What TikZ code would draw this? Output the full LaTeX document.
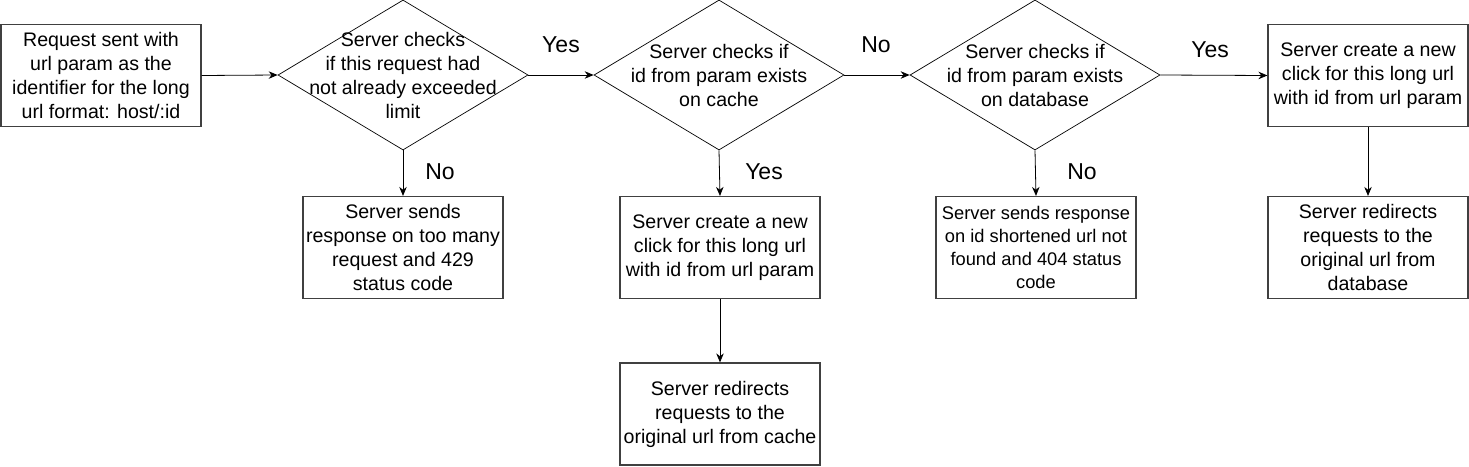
\documentclass[tikz,border=0pt]{standalone}
\usepackage{fontspec}
\setmainfont{Liberation Sans}
\usetikzlibrary{shapes.geometric,arrows.meta}
\tikzset{
  box/.style={draw=black!75, line width=1.2pt, rectangle, minimum width=200pt, minimum height=102pt, inner sep=0pt, align=center, font=\fontsize{19.6}{24}\selectfont},
  smallbox/.style={box, font=\fontsize{18.3}{23}\selectfont},
  dia/.style={draw=black, line width=0.7pt, shape=diamond, minimum width=250pt, minimum height=150pt, inner sep=0pt, aspect=1.667},
  diatext/.style={align=center, inner sep=0pt, font=\fontsize{19.6}{24}\selectfont},
  lab/.style={font=\fontsize{23}{26}\selectfont, inner sep=0pt},
  arr/.style={draw=black, line width=0.8pt, -{Stealth[length=9pt,width=7.5pt]}}
}
\begin{document}
\begin{tikzpicture}[x=1pt,y=-1pt]
\useasboundingbox (0,0) rectangle (1469,466);
\node[box] (b1) at (101,75.5) {Request sent with\\url param as the\\identifier for the long\\url format: host/:id};
\node[dia, label={[diatext]center:{Server checks\\if this request had\\not already exceeded\\limit}}] (d1) at (403,75) {};
\node[dia, label={[diatext]center:{Server checks if\\id from param exists\\on cache}}] (d2) at (719,75) {};
\node[dia, label={[diatext]center:{Server checks if\\id from param exists\\on database}}] (d3) at (1035,75) {};
\node[box] (b6) at (1368,75.5) {Server create a new\\click for this long url\\with id from url param};
\node[box] (b2) at (403,247.5) {Server sends\\response on too many\\request and 429\\status code};
\node[box] (b3) at (720,247.5) {Server create a new\\click for this long url\\with id from url param};
\node[box] (b4) at (720,414) {Server redirects\\requests to the\\original url from cache};
\node[smallbox] (b5) at (1036,247.5) {Server sends response\\on id shortened url not\\found and 404 status\\code};
\node[box] (b7) at (1368,247.5) {Server redirects\\requests to the\\original url from\\database};

\draw[arr] (b1.east) -- (d1.west);
\draw[arr] (d1.east) -- (d2.west);
\draw[arr] (d2.east) -- (d3.west);
\draw[arr] (d3.east) -- (b6.west);
\draw[arr] (d1.south) -- (b2.north);
\draw[arr] (d2.south) -- (b3.north);
\draw[arr] (d3.south) -- (b5.north);
\draw[arr] (b3.south) -- (b4.north);
\draw[arr] (b6.south) -- (b7.north);

\node[lab] (l1) at (561,45) {Yes};
\node[lab] (l2) at (876,45) {No};
\node[lab] (l3) at (1210,50) {Yes};
\node[lab] (l4) at (440,172) {No};
\node[lab] (l5) at (764,172) {Yes};
\node[lab] (l6) at (1082,172) {No};
\end{tikzpicture}
\end{document}
